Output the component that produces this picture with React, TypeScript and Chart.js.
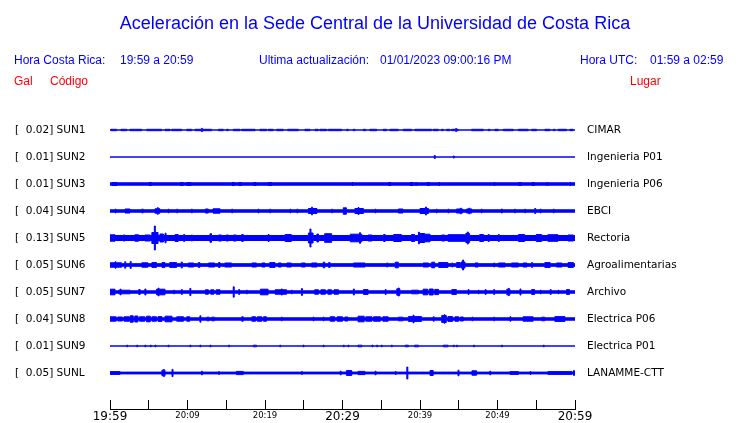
import React, { useEffect, useRef } from "react";
import { Chart, registerables } from "chart.js";

Chart.register(...registerables);

// ---------- texts ----------
const TITLE = "Aceleración en la Sede Central de la Universidad de Costa Rica";
const HEADER_BLUE = [
  "Hora Costa Rica:",
  "19:59 a 20:59",
  "Ultima actualización:",
  "01/01/2023 09:00:16 PM",
  "Hora UTC:",
  "01:59 a 02:59",
];
const HEADER_RED = ["Gal", "Código", "Lugar"];

// ---------- stations ----------
const CODES = ["SUN1", "SUN2", "SUN3", "SUN4", "SUN5", "SUN6", "SUN7", "SUN8", "SUN9", "SUNL"];
const GAL = ["0.02", "0.01", "0.01", "0.04", "0.13", "0.05", "0.05", "0.04", "0.01", "0.05"];
const PLACES = [
  "CIMAR",
  "Ingenieria P01",
  "Ingenieria P06",
  "EBCI",
  "Rectoria",
  "Agroalimentarias",
  "Archivo",
  "Electrica P06",
  "Electrica P01",
  "LANAMME-CTT",
];

// time axis (minutes after 19:59)
const TICK_MINUTES = [0, 5, 10, 15, 20, 25, 30, 35, 40, 45, 50, 55, 60];
const TICK_LABELS = ["19:59", "", "20:09", "", "20:19", "", "20:29", "", "20:39", "", "20:49", "", "20:59"];

// ---------- waveform envelopes ----------
// base half-amplitude and bursts [startMin, endMin, halfAmp]; amplitude units: 27 per trace spacing
const BASE_SUN1 = 0;
const EV_SUN1 = [
  [0.13, 0.86, 0.7], [1.42, 2.15, 0.7], [2.58, 4.09, 0.7], [4.73, 6.67, 0.7], [7.1, 7.74, 0.7],
  [7.96, 9.25, 0.7], [9.89, 10.54, 0.7], [10.97, 13.12, 0.7], [11.8, 11.8, 1.6], [13.98, 14.62, 0.7],
  [15.05, 15.27, 0.7], [15.91, 16.77, 0.7], [16.99, 18.71, 0.7], [19.35, 20.21, 0.7], [20.43, 21.07, 0.7],
  [21.5, 22.36, 0.7], [22.92, 24.3, 0.7], [25.16, 25.8, 0.7], [26.45, 26.88, 0.7], [27.09, 27.95, 0.7],
  [28.17, 29.89, 0.7], [30.53, 30.75, 0.7], [31.39, 31.61, 0.7], [32.68, 32.98, 0.7], [33.54, 34.4, 0.7],
  [35.26, 35.69, 0.7], [36.12, 37.2, 0.7], [37.84, 38.92, 0.7], [39.35, 41.5, 0.7], [41.71, 42.36, 0.7],
  [42.79, 43.0, 0.7], [43.43, 43.86, 0.7], [44.08, 44.94, 0.7], [44.6, 44.6, 1.4], [46.66, 48.16, 0.7],
  [48.81, 49.02, 0.7], [49.67, 50.1, 0.7], [50.74, 52.03, 0.7], [52.68, 53.97, 0.7], [54.4, 55.04, 0.7],
  [56.12, 56.76, 0.7], [57.19, 57.41, 0.7], [57.84, 58.91, 0.7], [59.34, 59.77, 0.7],
];
const BASE_SUN2 = 0;
const EV_SUN2 = [[41.84, 41.84, 1.5], [44.29, 44.29, 1.0]];
const BASE_SUN3 = 1.2;
const EV_SUN3 = [
  [0.2, 0.9, 1.5], [5.0, 5.4, 1.5], [9.0, 9.5, 1.5], [9.9, 10.5, 1.5], [15.7, 16.1, 1.5], [16.6, 17.0, 1.5],
  [18.5, 18.9, 1.5], [20.4, 20.9, 1.5], [31.2, 31.4, 1.5], [35.9, 36.3, 1.5], [38.7, 39.1, 1.5],
  [39.4, 39.6, 1.5], [40.9, 41.3, 1.5], [42.4, 42.6, 1.5], [49.5, 49.7, 1.5], [52.7, 53.1, 1.5],
  [54.4, 54.8, 1.5], [56.3, 56.5, 1.5], [59.3, 59.5, 1.5],
];
const BASE_SUN4 = 1.2;
const EV_SUN4 = [
  [0.65, 0.65, 1.8], [1.94, 2.58, 2.0], [4.09, 4.3, 1.8], [5.8, 6.45, 2.2], [6.1, 6.1, 3.3], [7.5, 7.5, 1.8],
  [8.6, 8.6, 1.8], [10.5, 10.5, 1.8], [12.3, 12.7, 2.0], [13.3, 14.2, 2.2], [15.7, 15.7, 1.8], [19.1, 19.1, 1.8],
  [20.6, 20.6, 1.8], [23.2, 23.2, 1.8], [24.1, 24.1, 1.8], [25.6, 26.7, 2.5], [26.0, 26.0, 3.8], [28.6, 28.6, 1.8],
  [30.1, 30.5, 3.2], [31.6, 32.7, 2.5], [32.0, 32.0, 3.5], [34.2, 34.2, 1.8], [37.2, 37.8, 2.0], [40.0, 41.1, 2.5],
  [40.7, 40.7, 4.0], [42.1, 42.1, 1.8], [43.6, 43.6, 1.8], [44.7, 45.5, 2.0], [45.2, 45.2, 2.8], [46.0, 46.7, 2.0],
  [46.3, 46.3, 2.8], [47.9, 47.9, 1.8], [50.5, 50.5, 2.0], [52.2, 52.2, 1.8], [53.5, 53.5, 1.8], [54.8, 54.8, 2.5],
  [55.5, 55.5, 1.8], [57.2, 57.2, 1.8],
];
const BASE_SUN5 = 2.5;
const EV_SUN5 = [
  [0, 0.65, 3.2], [1.72, 1.94, 3.0], [3.2, 3.7, 3.2], [4.5, 5.2, 3.0], [5.4, 6.2, 5.5], [5.72, 5.72, 12],
  [6.45, 6.9, 4.0], [7.1, 7.1, 4.8], [8.4, 8.8, 3.5], [9.5, 9.5, 3.5], [10.5, 10.5, 3.0], [12.9, 13.1, 4.3],
  [14.0, 14.4, 3.0], [15.0, 15.3, 3.0], [15.9, 16.3, 3.0], [17.0, 17.2, 3.5], [20.4, 20.4, 3.5], [22.6, 23.4, 3.5],
  [25.6, 26.2, 5.0], [25.8, 25.8, 9.0], [26.7, 26.9, 4.0], [27.7, 28.6, 4.3], [31.0, 32.5, 3.8], [32.2, 32.2, 5.3],
  [33.3, 33.8, 3.0], [35.3, 35.5, 3.5], [36.6, 37.6, 3.5], [38.9, 39.3, 3.5], [39.8, 40.6, 4.5], [39.8, 39.8, 5.8],
  [40.6, 41.3, 3.8], [42.8, 43.2, 3.0], [43.6, 45.8, 3.3], [45.9, 46.4, 4.5], [46.1, 46.1, 6.0], [47.7, 48.2, 3.5],
  [48.8, 48.8, 3.5], [50.1, 50.1, 3.5], [52.7, 53.5, 3.5], [55.0, 55.7, 3.5], [56.5, 57.8, 3.3], [59.1, 59.8, 3.0],
];
const BASE_SUN6 = 1.3;
const EV_SUN6 = [
  [0, 1.5, 2.2], [0.65, 0.65, 3.2], [1.9, 1.9, 3.2], [2.6, 2.6, 3.4], [4.1, 4.9, 2.2], [5.4, 6.0, 2.4],
  [6.7, 7.1, 2.4], [7.7, 8.6, 2.4], [9.2, 9.2, 3.0], [10.1, 10.8, 2.0], [11.4, 11.6, 2.4], [12.7, 13.5, 2.0],
  [14.0, 14.2, 2.4], [14.8, 15.7, 2.0], [18.3, 18.9, 2.0], [19.6, 20.0, 2.0], [20.6, 21.3, 2.4], [21.7, 22.1, 2.0],
  [22.8, 23.4, 2.0], [24.7, 25.2, 2.0], [26.0, 26.7, 2.0], [27.5, 27.7, 2.8], [28.2, 28.4, 2.4], [31.4, 32.9, 2.0],
  [35.7, 35.7, 2.0], [36.8, 37.2, 2.8], [40.4, 41.1, 2.0], [41.5, 41.9, 2.8], [42.4, 43.6, 2.4], [44.1, 44.1, 2.0],
  [44.7, 45.2, 2.4], [45.3, 45.8, 3.0], [45.5, 45.5, 5.0], [47.1, 47.5, 2.0], [49.5, 49.5, 2.0], [50.1, 51.0, 2.0],
  [51.8, 52.7, 2.0], [53.3, 53.8, 2.0], [54.4, 54.4, 2.4], [56.1, 56.8, 2.4], [57.6, 58.3, 2.0], [59.1, 59.8, 2.4],
];
const BASE_SUN7 = 1.2;
const EV_SUN7 = [
  [0, 0.65, 2.8], [1.1, 2.6, 1.8], [1.3, 1.3, 2.8], [3.7, 3.9, 2.4], [4.5, 4.5, 3.0], [6.0, 7.1, 2.8],
  [6.2, 6.2, 3.8], [8.2, 8.2, 1.8], [9.2, 9.2, 2.4], [10.3, 10.3, 3.6], [12.3, 12.7, 2.2], [13.0, 13.4, 2.2],
  [13.7, 14.2, 2.2], [15.9, 15.9, 5.2], [16.6, 16.6, 2.4], [17.6, 17.6, 1.8], [19.4, 20.4, 2.8], [21.3, 22.8, 2.2],
  [22.1, 22.1, 3.0], [23.4, 23.4, 1.8], [24.7, 24.7, 3.4], [26.4, 26.9, 2.2], [27.2, 27.8, 2.2], [28.1, 28.6, 2.2],
  [28.9, 29.5, 2.2], [31.4, 31.4, 3.0], [32.7, 33.3, 2.4], [35.5, 35.5, 2.4], [37.0, 37.4, 3.2], [37.2, 37.2, 4.0],
  [38.9, 39.8, 1.8], [40.4, 41.0, 2.8], [41.2, 41.7, 3.0], [41.9, 42.4, 2.6], [44.1, 44.7, 2.4], [46.2, 46.2, 2.4],
  [47.5, 47.5, 1.8], [48.4, 48.4, 2.4], [49.5, 49.5, 2.4], [51.2, 51.6, 2.8], [51.4, 51.4, 3.6], [52.9, 52.9, 3.0],
  [54.4, 54.8, 2.4], [55.5, 55.5, 1.8], [56.8, 56.8, 2.4], [57.8, 57.8, 1.8], [58.9, 59.3, 2.4],
];
const BASE_SUN8 = 1.2;
const EV_SUN8 = [
  [0, 0.8, 2.2], [1.0, 1.6, 2.0], [1.8, 2.5, 2.2], [2.6, 3.0, 3.2], [3.2, 3.6, 3.0], [3.8, 4.5, 2.2],
  [4.7, 5.2, 2.8], [5.4, 6.0, 2.2], [6.2, 6.7, 2.4], [7.1, 8.0, 2.8], [8.6, 9.5, 2.2], [9.9, 10.3, 2.2],
  [11.6, 11.6, 3.2], [12.5, 12.8, 1.8], [13.1, 13.5, 1.8], [17.0, 17.2, 2.2], [18.3, 18.8, 2.2], [19.0, 19.6, 2.2],
  [19.8, 20.2, 2.2], [22.1, 22.1, 1.8], [26.2, 26.2, 1.8], [27.5, 27.5, 1.8], [28.4, 29.0, 2.2], [29.3, 30.0, 2.2],
  [30.3, 30.7, 2.0], [32.0, 32.8, 2.8], [33.0, 33.8, 2.2], [34.0, 34.9, 2.2], [35.2, 35.9, 2.2], [37.2, 37.8, 1.8],
  [38.5, 40.2, 2.4], [39.1, 39.1, 3.8], [41.7, 41.7, 2.2], [42.8, 43.4, 3.4], [43.1, 43.1, 4.2], [43.6, 44.2, 2.4],
  [44.5, 45.0, 2.2], [45.2, 45.6, 2.0], [46.7, 46.7, 1.8], [49.5, 49.5, 1.8], [51.6, 51.6, 2.2], [53.3, 54.6, 2.2],
  [55.7, 56.1, 1.8], [57.4, 58.7, 2.4],
];
const BASE_SUN9 = 0;
const EV_SUN9 = [
  [2.15, 2.15, 0.8], [3.44, 3.44, 0.8], [4.5, 4.5, 0.8], [5.2, 5.2, 0.8], [5.8, 5.8, 0.8], [7.5, 7.5, 0.8],
  [10.3, 10.3, 0.8], [11.6, 11.6, 0.8], [12.9, 12.9, 0.8], [15.3, 15.3, 0.8], [18.5, 18.9, 0.8], [21.9, 21.9, 0.8],
  [24.9, 24.9, 0.8], [27.5, 27.5, 0.8], [30.1, 30.1, 0.8], [30.7, 30.7, 0.8], [32.0, 32.5, 0.8], [33.8, 33.8, 0.8],
  [34.4, 34.4, 0.8], [35.0, 35.0, 0.8], [36.3, 36.3, 0.8], [38.1, 38.5, 0.8], [39.3, 39.8, 0.8], [43.0, 43.6, 0.8],
  [44.3, 44.3, 0.8], [44.7, 44.7, 0.8], [46.9, 46.9, 0.8], [50.5, 50.5, 0.8], [55.9, 55.9, 0.8],
];
const BASE_SUNL = 0.9;
const EV_SUNL = [
  [0, 1.3, 1.4], [6.7, 7.1, 2.8], [6.9, 6.9, 3.4], [8.0, 8.0, 3.6], [11.8, 11.8, 1.8], [14.0, 14.0, 1.4],
  [16.3, 17.2, 1.6], [24.7, 24.7, 1.4], [29.7, 29.7, 1.8], [30.5, 31.2, 2.4], [32.0, 32.9, 1.6], [34.2, 34.2, 1.8],
  [36.8, 36.8, 1.4], [38.3, 38.3, 6.0], [41.3, 41.7, 2.5], [44.9, 44.9, 2.8], [46.7, 47.3, 2.2], [49.0, 49.0, 1.8],
  [51.6, 52.7, 1.4], [54.2, 54.2, 1.4], [56.5, 59.6, 1.4], [59.8, 59.8, 2.4],
];

const BASES = [BASE_SUN1, BASE_SUN2, BASE_SUN3, BASE_SUN4, BASE_SUN5, BASE_SUN6, BASE_SUN7, BASE_SUN8, BASE_SUN9, BASE_SUNL];
const EVENTS = [EV_SUN1, EV_SUN2, EV_SUN3, EV_SUN4, EV_SUN5, EV_SUN6, EV_SUN7, EV_SUN8, EV_SUN9, EV_SUNL];

const AMP_PER_ROW = 27;
const SPIKE_MIN = 0.13;
const BLUE = "#0000ff";
const RED = "#ff0000";

function envelope(base: number, events: number[][]): number[][] {
  const evs = events.map(([s, e, a]) => [s, Math.max(e, s + SPIKE_MIN), a]);
  const set = new Set<number>([0, 60]);
  evs.forEach(([s, e]) => {
    set.add(Math.min(60, s));
    set.add(Math.min(60, e));
  });
  const xs = Array.from(set).sort((a, b) => a - b);
  const pts: number[][] = [];
  let last = base;
  for (let k = 0; k < xs.length - 1; k++) {
    const mid = (xs[k] + xs[k + 1]) / 2;
    let amp = base;
    evs.forEach(([s, e, a]) => {
      if (mid > s && mid < e) amp = Math.max(amp, a);
    });
    pts.push([xs[k], amp]);
    last = amp;
  }
  pts.push([60, last]);
  return pts;
}

const headerPlugin = {
  id: "seisHeader",
  afterDraw(chart: any) {
    const ctx = chart.ctx;
    ctx.save();
    ctx.textBaseline = "alphabetic";
    ctx.fillStyle = BLUE;
    ctx.font = "18px 'Liberation Sans', Arial, sans-serif";
    ctx.textAlign = "center";
    ctx.fillText(TITLE, 375, 29);
    ctx.textAlign = "left";
    ctx.font = "12px 'Liberation Sans', Arial, sans-serif";
    const blueX = [14, 120, 259, 380, 580, 650];
    HEADER_BLUE.forEach((t, i) => ctx.fillText(t, blueX[i], 64));
    ctx.fillStyle = RED;
    const redX = [14, 50, 630];
    HEADER_RED.forEach((t, i) => ctx.fillText(t, redX[i], 85));
    ctx.restore();
  },
};

export default function App() {
  const ref = useRef<HTMLCanvasElement | null>(null);

  useEffect(() => {
    document.body.style.margin = "0";
    const canvas = ref.current;
    if (!canvas) return;

    const datasets: any[] = [];
    CODES.forEach((_, i) => {
      const row = i + 1;
      const env = envelope(BASES[i], EVENTS[i]);
      const lower = env.map(([x, a]) => ({ x, y: row + a / AMP_PER_ROW }));
      const upper = env.map(([x, a]) => ({ x, y: row - a / AMP_PER_ROW }));
      const common = {
        borderColor: BLUE,
        backgroundColor: BLUE,
        borderWidth: 1,
        pointRadius: 0,
        pointHoverRadius: 0,
        stepped: true,
        tension: 0,
        yAxisID: "y",
      };
      datasets.push({ ...common, label: CODES[i] + "-", data: lower, fill: false });
      datasets.push({ ...common, label: CODES[i] + "+", data: upper, fill: "-1" });
    });

    const yMax = 306 / 27;
    const rowTicks = (s: any) => {
      s.ticks = CODES.map((_, i) => ({ value: i + 1 }));
    };

    const chart = new Chart(canvas, {
      type: "line",
      data: { datasets },
      plugins: [headerPlugin],
      options: {
        responsive: false,
        animation: false,
        events: [],
        layout: { padding: { top: 103, left: 15, right: 0, bottom: 0 } },
        plugins: {
          legend: { display: false },
          tooltip: { enabled: false },
          title: { display: false },
        },
        scales: {
          x: {
            type: "linear",
            position: "bottom",
            min: 0,
            max: 60,
            afterBuildTicks: (s: any) => {
              s.ticks = TICK_MINUTES.map((v) => ({ value: v }));
            },
            afterFit: (s: any) => {
              s.height = 14;
              s.paddingLeft = 0;
              s.paddingRight = 0;
            },
            ticks: {
              autoSkip: false,
              maxRotation: 0,
              minRotation: 0,
              padding: 9,
              color: "#000",
              callback: (v: any) => TICK_LABELS[TICK_MINUTES.indexOf(Number(v))] ?? "",
              font: (c: any) =>
                c.tick && c.tick.value % 30 === 0
                  ? { family: "'DejaVu Sans'", size: 12, lineHeight: 1.35 }
                  : { family: "'DejaVu Sans'", size: 8.5, lineHeight: 1.5 },
            },
            grid: { drawOnChartArea: false, drawTicks: true, tickLength: -9, color: "#000", lineWidth: 1 },
            border: { display: true, color: "#000", width: 1 },
          },
          y: {
            type: "linear",
            position: "left",
            reverse: true,
            min: 0,
            max: yMax,
            afterBuildTicks: rowTicks,
            afterFit: (s: any) => {
              s.width = 95;
              s.paddingTop = 0;
              s.paddingBottom = 0;
            },
            ticks: {
              crossAlign: "far",
              color: "#000",
              font: { family: "'DejaVu Sans'", size: 10.5 },
              callback: (v: any) => `[  ${GAL[Number(v) - 1]}] ${CODES[Number(v) - 1]}`,
            },
            grid: { display: false, drawTicks: false },
            border: { display: false },
          },
          y2: {
            type: "linear",
            position: "right",
            reverse: true,
            min: 0,
            max: yMax,
            afterBuildTicks: rowTicks,
            afterFit: (s: any) => {
              s.width = 165;
              s.paddingTop = 0;
              s.paddingBottom = 0;
            },
            ticks: {
              crossAlign: "near",
              padding: 12,
              color: "#000",
              font: { family: "'DejaVu Sans'", size: 10.5 },
              callback: (v: any) => PLACES[Number(v) - 1],
            },
            grid: { display: false, drawTicks: false },
            border: { display: false },
          },
        },
      },
    } as any);

    return () => chart.destroy();
  }, []);

  return (
    <div style={{ width: 740, height: 423, background: "#fff" }}>
      <canvas ref={ref} width={740} height={423} style={{ display: "block" }} />
    </div>
  );
}
